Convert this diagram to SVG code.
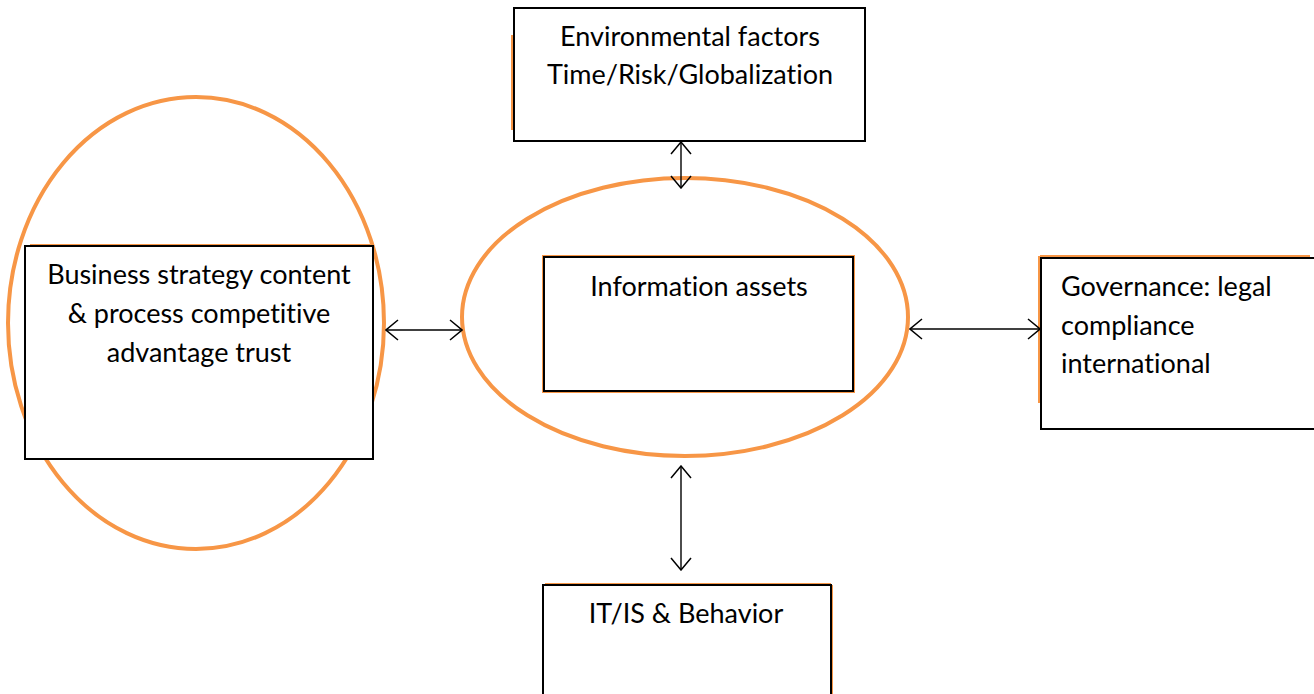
<svg xmlns="http://www.w3.org/2000/svg" width="1314" height="694" viewBox="0 0 1314 694">
<style>
.box{fill:#fff;stroke:#000;stroke-width:2}
.ell{fill:none;stroke:#F79646;stroke-width:4}
.acc{fill:none;stroke:#F79646;stroke-width:2}
.t{font-family:Lato,"Open Sans","Liberation Sans",sans-serif;font-size:27px;fill:#000;font-variant-ligatures:none;font-feature-settings:"liga" 0,"dlig" 0}
.c{text-anchor:middle}
.con{stroke:#000;stroke-width:1.4;fill:none}
</style>
<defs>
<marker id="ah" viewBox="0 0 14 22" refX="13" refY="11" markerWidth="14" markerHeight="22" markerUnits="userSpaceOnUse" orient="auto-start-reverse">
<path d="M1,1 L13,11 L1,21" fill="none" stroke="#000" stroke-width="1.5"/>
</marker>
</defs>
<rect width="1314" height="694" fill="#fff"/>
<g id="left-ellipse"><ellipse class="ell" cx="196" cy="323" rx="188" ry="226"/></g>
<g id="business">
<line class="acc" x1="30" y1="245" x2="370" y2="245"/>
<rect class="box" x="25" y="246" width="348" height="213"/>
<text class="t c" x="199" y="284">Business strategy content</text>
<text class="t c" x="199" y="323">&amp; process competitive</text>
<text class="t c" x="199" y="362">advantage trust</text>
</g>
<g id="environmental">
<line class="acc" x1="512" y1="35" x2="512" y2="130"/>
<rect class="box" x="514" y="8" width="351" height="133"/>
<text class="t c" x="690" y="46">Environmental factors</text>
<text class="t c" x="690" y="84">Time/Risk/Globalization</text>
</g>
<g id="info-ellipse"><ellipse class="ell" cx="685" cy="317" rx="223" ry="139"/></g>
<g id="information">
<rect x="543" y="256" width="311" height="136" fill="none" stroke="#F79646" stroke-width="2"/>
<rect class="box" x="544" y="257" width="309" height="134"/>
<text class="t c" x="699" y="296">Information assets</text>
</g>
<g id="governance">
<line class="acc" x1="1040" y1="256" x2="1310" y2="256"/>
<line class="acc" x1="1039" y1="256" x2="1039" y2="403"/>
<rect class="box" x="1041" y="258" width="280" height="171"/>
<text class="t" x="1061" y="296">Governance: legal</text>
<text class="t" x="1061" y="335">compliance</text>
<text class="t" x="1061" y="373">international</text>
</g>
<g id="itis">
<line class="acc" x1="545" y1="584" x2="831" y2="584"/>
<line class="acc" x1="832" y1="585" x2="832" y2="694"/>
<rect class="box" x="543" y="585" width="288" height="115"/>
<text class="t c" x="686" y="623">IT/IS &amp; Behavior</text>
</g>
<g id="connectors">
<line class="con" x1="681" y1="142" x2="681" y2="188" marker-start="url(#ah)" marker-end="url(#ah)"/>
<line class="con" x1="386" y1="330" x2="462" y2="330" marker-start="url(#ah)" marker-end="url(#ah)"/>
<line class="con" x1="910" y1="329" x2="1040" y2="329" marker-start="url(#ah)" marker-end="url(#ah)"/>
<line class="con" x1="681" y1="466" x2="681" y2="570" marker-start="url(#ah)" marker-end="url(#ah)"/>
</g>
</svg>
